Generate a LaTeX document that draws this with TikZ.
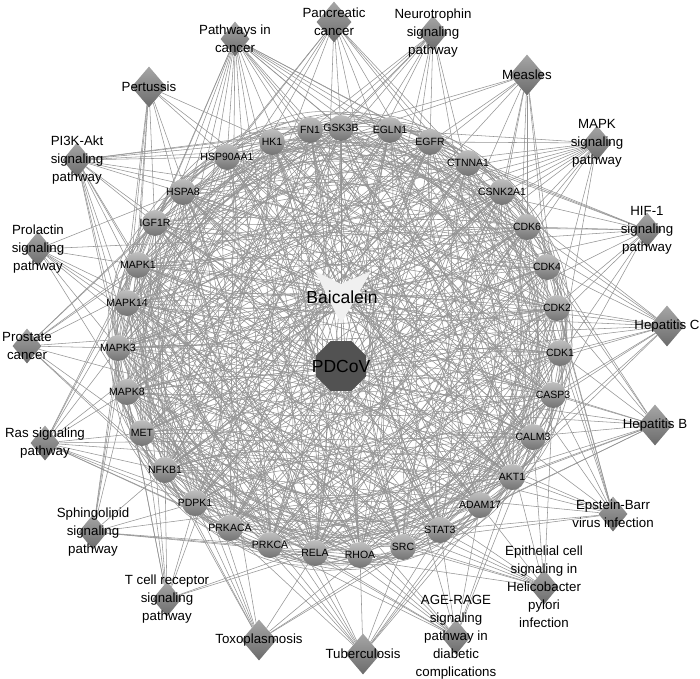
\documentclass[tikz,border=0pt]{standalone}
\usepackage{fontspec}
\setmainfont{Liberation Sans}
\usetikzlibrary{shapes.geometric,backgrounds}

\begin{document}
\begin{tikzpicture}[x=1pt, y=-1pt, line join=round, line cap=round,
    link/.style={draw=black!42, line width=0.55pt},
    gene/.style={circle, minimum size=26pt, inner sep=0pt, top color=black!25, bottom color=black!55},
    genetext/.style={inner sep=0pt, font=\fontsize{10.5}{12}\selectfont},
    pathmid/.style={diamond, minimum width=29pt, minimum height=35pt, inner sep=0pt, top color=black!35, bottom color=black!58},
    pathbig/.style={pathmid, minimum width=35pt, minimum height=41pt},
    pathtext/.style={inner sep=0pt, align=center, font=\fontsize{13.3}{18}\selectfont},
    hubtext/.style={inner sep=0pt, font=\fontsize{17.5}{20}\selectfont}]
  \useasboundingbox (0,0) rectangle (700,678);

  % compound and virus
  \fill[black!6] (315,271) -- (341,284) -- (371,271) -- (341,324) -- cycle;
  \coordinate (bai) at (341,292);
  \node[hubtext] (bai-t) at (342,297) {Baicalein};
  \node[regular polygon, regular polygon sides=8, minimum size=54pt, inner sep=0pt, fill=black!68] (pdcov) at (341,366) {};
  \node[hubtext] (pdcov-t) at (pdcov) {PDCoV};

  % targets
  \foreach \n/\x/\y [count=\i] in {FN1/310/130, GSK3B/341/128, EGLN1/390/130, EGFR/430/142,
      CTNNA1/468/163, CSNK2A1/502/192, CDK6/527/227, CDK4/547/267, CDK2/557/308,
      CDK1/560/353, CASP3/553/395, CALM3/533/437, AKT1/512/477, ADAM17/480/505,
      STAT3/440/530, SRC/403/547, RHOA/360/555, RELA/315/553, PRKCA/270/545,
      PRKACA/230/528, PDPK1/195/503, NFKB1/165/470, MET/142/433, MAPK8/127/392,
      MAPK3/118/348, MAPK14/127/303, MAPK1/138/265, IGF1R/155/223, HSPA8/183/192,
      HSP90AA1/227/157, HK1/272/142}{
    \node[gene, alias=g\i] (\n) at (\x,\y) {};
    \node[genetext] (\n-t) at (\n) {\n};
  }

  % pathways
  \foreach \n/\x/\y/\s/\t in {pancreatic/334/22/pathbig/{Pancreatic\\cancer},
      pathcancer/235/39/pathmid/{Pathways in\\cancer},
      neurotrophin/433/33/pathmid/{Neurotrophin\\signaling\\pathway},
      pertussis/149/87/pathbig/{Pertussis},
      measles/527/75/pathbig/{Measles},
      pi3k/77/160/pathmid/{PI3K-Akt\\signaling\\pathway},
      mapk/597/143/pathmid/{MAPK\\signaling\\pathway},
      prolactin/38/249/pathmid/{Prolactin\\signaling\\pathway},
      hif/647/230/pathmid/{HIF-1\\signaling\\pathway},
      prostate/27/346/pathmid/{Prostate\\cancer},
      hepc/667/326/pathbig/{Hepatitis C},
      ras/45/443/pathmid/{Ras signaling\\pathway},
      hepb/655/425/pathbig/{Hepatitis B},
      sphingo/93/532/pathmid/{Sphingolipid\\signaling\\pathway},
      ebv/613/514/pathmid/{Epstein-Barr\\virus infection},
      tcr/167/599/pathmid/{T cell receptor\\signaling\\pathway},
      hpylori/544/587/pathmid/{Epithelial cell\\signaling in\\Helicobacter\\pylori\\infection},
      toxo/259/640/pathbig/{Toxoplasmosis},
      tb/363/654/pathbig/{Tuberculosis},
      agerage/456/637/pathmid/{AGE-RAGE\\signaling\\pathway in\\diabetic\\complications}}{
    \node[\s] (\n) at (\x,\y) {};
    \node[pathtext] (\n-t) at (\n) {\t};
  }

  \begin{scope}[on background layer]
    % compound and virus to targets
    \foreach \i in {1,...,31}{
      \draw[link] (bai) -- (g\i);
      \draw[link] (pdcov) -- (g\i);
    }
    % target interactions
    \foreach \i in {1,...,31}{
      \foreach \d/\b in {1/-15, 2/22, 3/-28, 4/34, 5/32, 6/-36, 7/-30, 8/28, 9/26, 10/-32, 11/30, 12/-22, 13/24, 14/18, 15/-20}{
        \pgfmathtruncatemacro\j{mod(\i+\d-1,31)+1}
        \draw[link] (g\i) to[bend left=\b] (g\j);
      }
    }
    % pathway memberships
    \foreach \p/\gl in {
        pancreatic/{EGFR,AKT1,CDK4,CDK6,STAT3,RELA,NFKB1,MAPK8,MAPK3,MAPK1,GSK3B,HSP90AA1,CASP3},
        pathcancer/{FN1,GSK3B,EGLN1,EGFR,CTNNA1,CDK6,CDK4,CDK2,CASP3,CALM3,AKT1,STAT3,RHOA,RELA,PRKCA,PRKACA,NFKB1,MET,MAPK8,MAPK3,MAPK1,IGF1R,HSP90AA1},
        neurotrophin/{GSK3B,CALM3,AKT1,RHOA,RELA,PDPK1,NFKB1,MAPK8,MAPK3,MAPK14,MAPK1,EGFR},
        pertussis/{CASP3,CALM3,RELA,PRKCA,NFKB1,MAPK8,MAPK3,MAPK14,MAPK1,HK1},
        measles/{GSK3B,CDK6,CDK4,CDK2,CSNK2A1,AKT1,STAT3,RELA,NFKB1,MAPK8,HSPA8,EGFR},
        pi3k/{FN1,GSK3B,EGFR,CDK6,CDK4,CDK2,AKT1,RELA,PRKCA,PDPK1,NFKB1,MET,MAPK3,MAPK1,IGF1R,HSP90AA1,EGLN1},
        mapk/{EGFR,AKT1,CASP3,RELA,PRKCA,PRKACA,NFKB1,MET,MAPK8,MAPK3,MAPK14,MAPK1,IGF1R,HSPA8,EGLN1},
        prolactin/{GSK3B,STAT3,SRC,AKT1,MAPK8,MAPK3,MAPK14,MAPK1,CDK6},
        hif/{EGFR,EGLN1,HK1,AKT1,STAT3,RELA,PRKCA,NFKB1,MAPK3,MAPK1,IGF1R,CDK6,CTNNA1},
        prostate/{GSK3B,EGFR,CDK2,AKT1,RELA,PDPK1,NFKB1,MAPK3,MAPK1,IGF1R,HSP90AA1},
        hepc/{GSK3B,EGFR,CDK6,CDK4,CDK2,CASP3,AKT1,STAT3,RELA,NFKB1,MAPK8,MAPK3,MAPK14,MAPK1,CDK1},
        ras/{AKT1,CALM3,EGFR,IGF1R,MET,MAPK8,MAPK3,MAPK1,NFKB1,RELA,PRKCA,PRKACA,RHOA,MAPK14},
        hepb/{CDK6,CDK4,CDK2,CASP3,AKT1,STAT3,SRC,RELA,PRKCA,NFKB1,MAPK8,MAPK3,MAPK1,CDK1},
        sphingo/{AKT1,MAPK8,MAPK3,MAPK14,MAPK1,NFKB1,RELA,PRKCA,PDPK1,RHOA},
        ebv/{CDK6,CDK4,CDK2,AKT1,STAT3,RELA,NFKB1,MAPK8,MAPK14,GSK3B,HSPA8,CASP3,CDK1},
        tcr/{AKT1,GSK3B,MAPK8,MAPK3,MAPK14,MAPK1,NFKB1,RELA,PDPK1},
        hpylori/{ADAM17,CASP3,EGFR,MET,MAPK8,MAPK14,NFKB1,RELA,SRC,CALM3,STAT3},
        toxo/{AKT1,CASP3,STAT3,RELA,NFKB1,MAPK8,MAPK14,MAPK1,HSPA8,PDPK1},
        tb/{AKT1,CASP3,CALM3,RELA,NFKB1,MAPK8,MAPK14,MAPK3,MAPK1,RHOA,SRC,STAT3},
        agerage/{AKT1,CASP3,STAT3,RELA,NFKB1,MAPK8,MAPK14,MAPK3,MAPK1,PRKCA,FN1,ADAM17}}{
      \foreach \g in \gl
        \draw[link] (\p) -- (\g);
    }
  \end{scope}
\end{tikzpicture}
\end{document}
